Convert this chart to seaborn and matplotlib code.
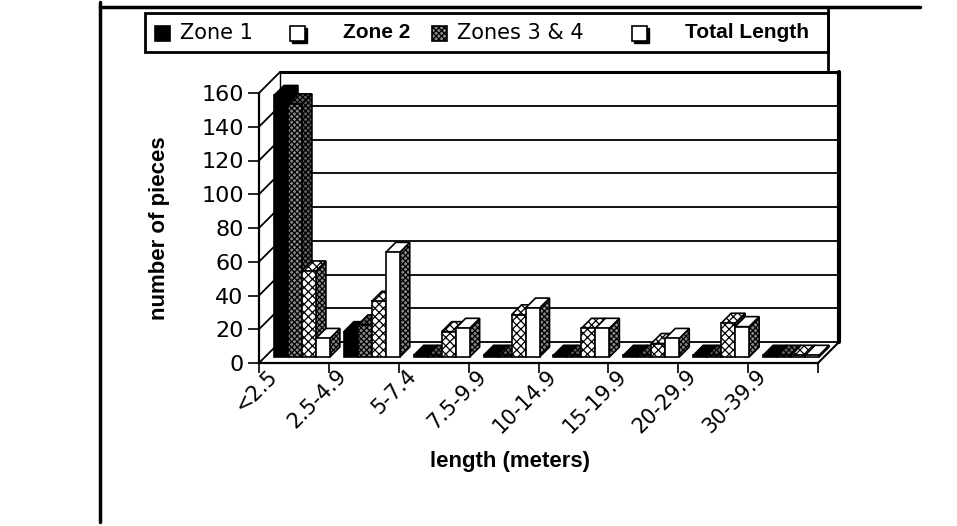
import numpy as np
import pandas as pd
import matplotlib
matplotlib.use("Agg")
import matplotlib.pyplot as plt
import seaborn as sns
from matplotlib.patches import Polygon, Rectangle
from matplotlib.lines import Line2D
from matplotlib.transforms import ScaledTranslation, IdentityTransform

# ---------------- data ----------------
categories = ["<2.5", "2.5-4.9", "5-7.4", "7.5-9.9", "10-14.9", "15-19.9", "20-29.9", "30-39.9"]
series_names = ["Zone 1", "Zone 2", "Zones 3 & 4", "Total Length"]
zone1 = [155, 15, 1, 1, 1, 1, 1, 1]
zone2 = [150, 19, 1, 1, 1, 1, 1, 1]
zones34 = [51, 33, 15, 25, 17, 8, 20, 1]
total_length = [11, 62, 17, 29, 17, 11, 18, 1]
y_ticks = [0, 20, 40, 60, 80, 100, 120, 140, 160]
x_label = "length (meters)"
y_label = "number of pieces"

# ---------------- setup ----------------
W, H, DPI = 957, 526, 100
sns.set_theme(style="white")
plt.rcParams["font.family"] = ["DejaVu Sans"]
plt.rcParams["text.color"] = "black"
plt.rcParams["xtick.color"] = "black"
plt.rcParams["ytick.color"] = "black"
plt.rcParams["hatch.linewidth"] = 0.9
BOLD = ["Liberation Sans", "DejaVu Sans"]

fig = plt.figure(figsize=(W / DPI, H / DPI), dpi=DPI)
fig.patch.set_facecolor("white")


def fx(px):
    return px / W


def fy(py):
    return 1 - py / H


def shift(dx, dy):
    # dx right, dy up, in pixels
    return ScaledTranslation(dx / DPI, dy / DPI, fig.dpi_scale_trans)


FL, FR, F0, F160 = 259, 818, 363, 93
ax = fig.add_axes([fx(FL), fy(F0), fx(FR) - fx(FL), fy(F160) - fy(F0)])
ax.patch.set_alpha(0)

values = {"Zone 1": zone1, "Zone 2": zone2, "Zones 3 & 4": zones34, "Total Length": total_length}
df = pd.DataFrame(
    [(c, s, v) for s in series_names for c, v in zip(categories, values[s])],
    columns=["length", "series", "count"],
)
face_colors = ["black", "#8a8a8a", "white", "white"]
sns.barplot(
    data=df, x="length", y="count", hue="series", order=categories, hue_order=series_names,
    palette=face_colors, saturation=1, width=0.8,
    edgecolor="black", linewidth=1.2, errorbar=None, legend=False, ax=ax,
)
ax.set_xlim(-0.5, 7.5)
ax.set_ylim(0, 160)

hatches = ["", "xxxxxx", "xxxx", ""]
front = ax.transData
back = ax.transData + shift(21, 21)
bar_tr = ax.transData + shift(8, 6)
D = np.array([10.0, 10.0])

for s, cont in enumerate(ax.containers):
    for bar in cont:
        bar.set_hatch(hatches[s])
        bar.set_transform(bar_tr)
        bar.set_zorder(3.5 + 2 * s)
        bar.set_clip_on(False)
        x, w, h = bar.get_x(), bar.get_width(), bar.get_height()
        p = bar_tr.transform([(x, 0), (x + w, 0), (x + w, h), (x, h)])
        side = [p[1], p[1] + D, p[2] + D, p[2]]
        top = [p[3], p[2], p[2] + D, p[3] + D]
        if s == 0:
            sfc, shatch, tfc, thatch = "black", "", "black", ""
        elif s == 1:
            sfc, shatch, tfc, thatch = "#606060", "xxxxxx", "#606060", "xxxxxx"
        elif s == 2:
            sfc, shatch, tfc, thatch = "#8a8a8a", "xxxxxx", "white", "xxxx"
        else:
            sfc, shatch, tfc, thatch = "#8a8a8a", "xxxxxx", "white", ""
        for pts, fc, ht in ((side, sfc, shatch), (top, tfc, thatch)):
            poly = Polygon(pts, closed=True, transform=IdentityTransform(), facecolor=fc,
                           edgecolor="black", hatch=ht, linewidth=1.2, zorder=3 + 2 * s,
                           clip_on=False)
            ax.add_patch(poly)

# back wall gridlines and edges
for v in y_ticks:
    lw = 2.2 if v == 160 else 1.3
    ax.plot([-0.5, 7.5], [v, v], transform=back, color="black", lw=lw, clip_on=False, zorder=1)
ax.plot([7.5, 7.5], [0, 160], transform=back, color="black", lw=3, clip_on=False, zorder=1)
ax.plot([-0.5, -0.5], [0, 160], transform=back, color="black", lw=1.0, clip_on=False, zorder=1)

# left wall slanted lines and floor diagonals
for v in y_ticks:
    a = front.transform((-0.5, v))
    b = back.transform((-0.5, v))
    ax.add_line(Line2D([a[0], b[0]], [a[1], b[1]], transform=IdentityTransform(),
                       color="black", lw=1.3, clip_on=False, zorder=1))
a = front.transform((7.5, 0))
b = back.transform((7.5, 0))
ax.add_line(Line2D([a[0], b[0]], [a[1], b[1]], transform=IdentityTransform(),
                   color="black", lw=1.5, clip_on=False, zorder=1))

ax.set_xlim(-0.5, 7.5)
ax.set_ylim(0, 160)

# spines / ticks
for side_name in ("top", "right"):
    ax.spines[side_name].set_visible(False)
for side_name in ("left", "bottom"):
    ax.spines[side_name].set_visible(True)
    ax.spines[side_name].set_color("black")
    ax.spines[side_name].set_linewidth(1.6)
    ax.spines[side_name].set_zorder(20)

ax.set_yticks(y_ticks)
ax.set_yticklabels([str(v) for v in y_ticks])
ax.tick_params(axis="y", left=True, length=8, width=1.2, pad=3, labelsize=16, direction="out")
ax.set_xticks(range(len(categories)))
ax.set_xticklabels([])
ax.set_xticks(np.arange(-0.5, len(categories), 1.0), minor=True)
ax.tick_params(axis="x", which="major", bottom=False, length=0)
ax.tick_params(axis="x", which="minor", bottom=True, length=7, width=1.2, direction="out")
ax.set_xlabel("")
ax.set_ylabel("")

lab_tr = ax.transData + shift(-20, -10)
for i, c in enumerate(categories):
    ax.text(i, 0, c, transform=lab_tr, rotation=45, ha="right", va="center",
            rotation_mode="anchor", fontsize=15, clip_on=False)

fig.text(fx(510), fy(462), x_label, ha="center", va="center", fontsize=16,
         fontweight="bold", family=BOLD)
fig.text(fx(160), fy(228), y_label, ha="center", va="center", rotation=90, fontsize=16,
         fontweight="bold", family=BOLD)

# ---------------- legend ----------------
fig.add_artist(Rectangle((fx(145), fy(52)), fx(828) - fx(145), fy(13) - fy(52),
                         transform=fig.transFigure, fill=False, edgecolor="black", lw=2))
ly = 33
sq = 15
legend_items = [
    (155, 180, "black", "", series_names[0], ["DejaVu Sans"], "normal"),
    (290, 343, "white", "", series_names[1], BOLD, "bold"),
    (432, 457, "#8a8a8a", "xxxxxx", series_names[2], ["DejaVu Sans"], "normal"),
    (632, 685, "white", "", series_names[3], BOLD, "bold"),
]
for hx, tx, fc, ht, name, fam, wt in legend_items:
    if fc == "white" and ht == "":
        fig.add_artist(Rectangle((fx(hx + 2), fy(ly + sq / 2 + 2)), sq / W, sq / H,
                                 transform=fig.transFigure, facecolor="black", edgecolor="black", lw=1))
    fig.add_artist(Rectangle((fx(hx), fy(ly + sq / 2)), sq / W, sq / H,
                             transform=fig.transFigure, facecolor=fc, edgecolor="black",
                             hatch=ht, lw=1.2))
    fig.text(fx(tx), fy(ly), name, ha="left", va="center", fontsize=15, family=fam, fontweight=wt)

# page rules
fig.add_artist(Line2D([fx(100), fx(920)], [fy(7), fy(7)], transform=fig.transFigure, color="black", lw=2.5))
fig.add_artist(Line2D([fx(828), fx(828)], [fy(7), fy(70)], transform=fig.transFigure, color="black", lw=2))
fig.add_artist(Line2D([fx(100), fx(100)], [fy(2), fy(522)], transform=fig.transFigure, color="black", lw=2.5))

fig.savefig("out.png", dpi=DPI, facecolor="white")
